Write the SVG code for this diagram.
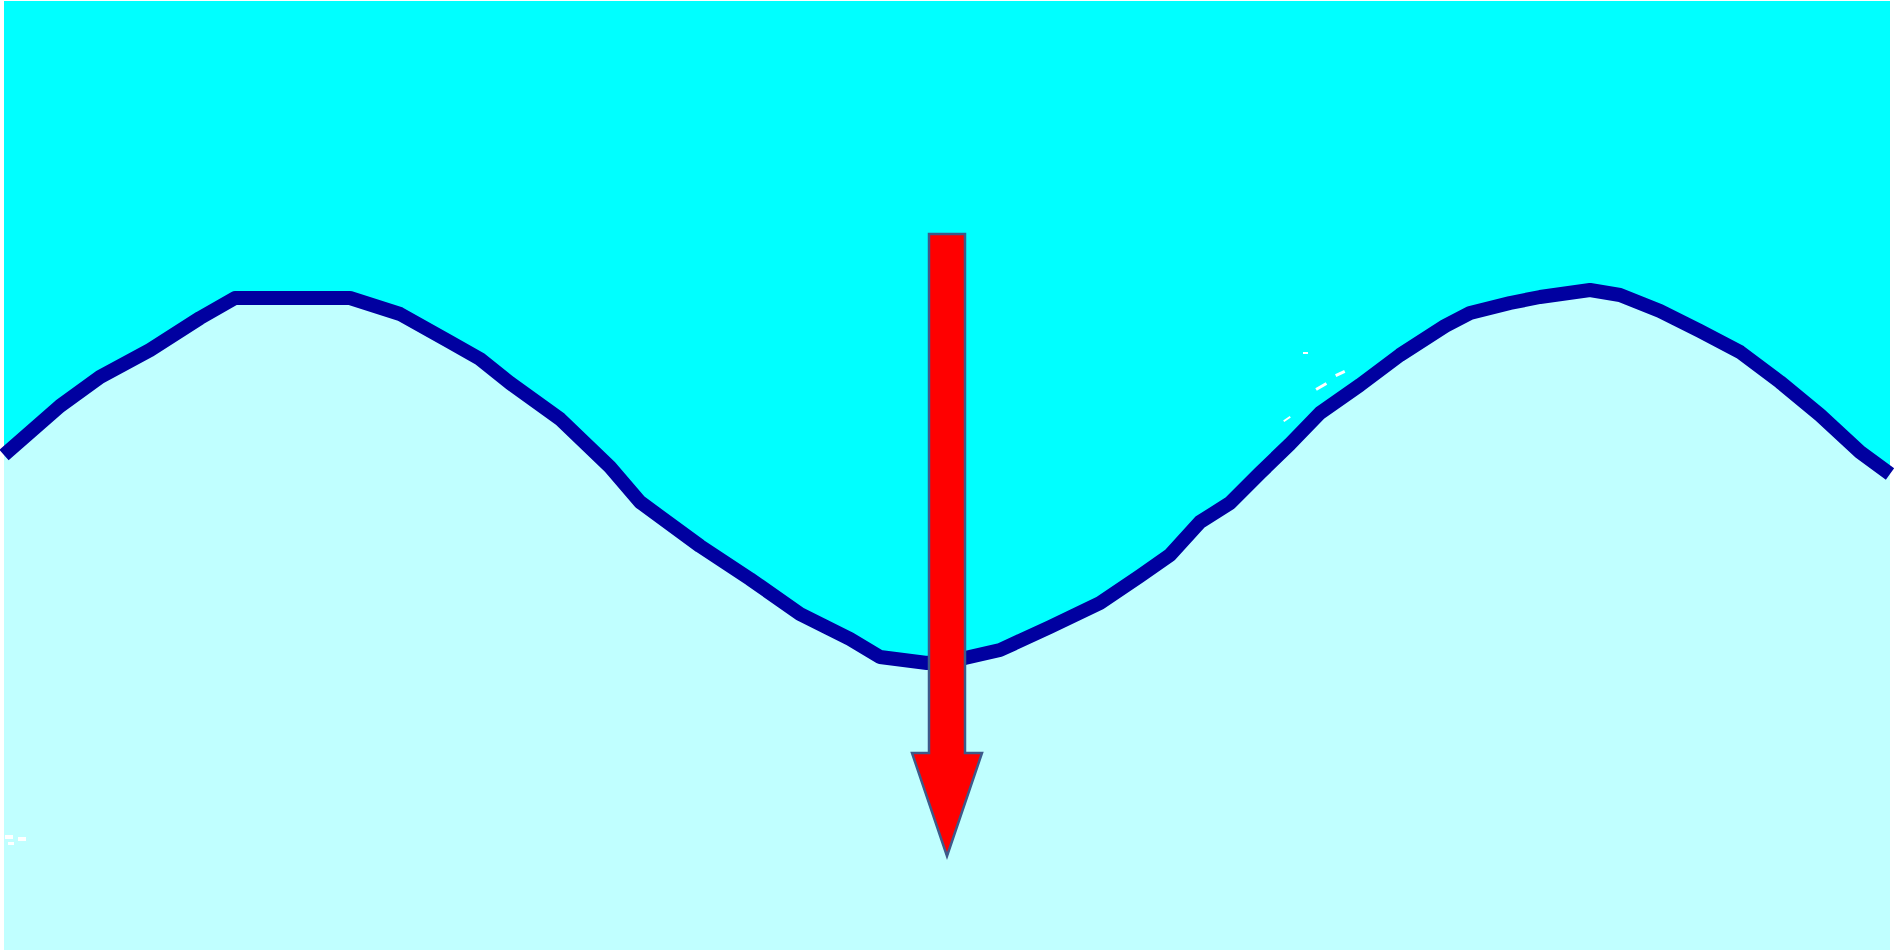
<svg xmlns="http://www.w3.org/2000/svg" width="1899" height="951" viewBox="0 0 1899 951">
<style>
.air{fill:#00FFFF}
.water{fill:#C0FFFF}
.iface{fill:none;stroke:#0000A0;stroke-width:14;stroke-linejoin:round;stroke-linecap:butt}
.arrow{fill:#FF0000;stroke:#3D5A8A;stroke-width:2.5;stroke-linejoin:miter}
.speck{fill:#FFFFFF}
</style>
<rect x="0" y="0" width="1899" height="951" fill="#FFFFFF"/>
<g id="scene">
<rect class="air" x="4" y="1" width="1886" height="949"/>
<path class="water" d="M4,455 L60,406 L100,377 L150,350 L200,318 L235,298 L350,298 L400,314 L450,342 L480,359 L510,383 L560,419 L610,467 L640,502 L700,546 L750,579 L800,614 L850,639 L880,657 L927,663 L965,658 L1000,650 L1050,627 L1100,603 L1140,576 L1170,555 L1200,522 L1230,503 L1260,473 L1290,444 L1320,413 L1360,385 L1400,355 L1445,326 L1470,313 L1510,303 L1540,297 L1590,290 L1620,295 L1660,311 L1700,331 L1740,352 L1780,382 L1820,415 L1860,452 L1890,474 L1890,950 L4,950 Z"/>
<path class="iface" d="M4,455 L60,406 L100,377 L150,350 L200,318 L235,298 L350,298 L400,314 L450,342 L480,359 L510,383 L560,419 L610,467 L640,502 L700,546 L750,579 L800,614 L850,639 L880,657 L927,663 L965,658 L1000,650 L1050,627 L1100,603 L1140,576 L1170,555 L1200,522 L1230,503 L1260,473 L1290,444 L1320,413 L1360,385 L1400,355 L1445,326 L1470,313 L1510,303 L1540,297 L1590,290 L1620,295 L1660,311 L1700,331 L1740,352 L1780,382 L1820,415 L1860,452 L1890,474"/>
<g id="specks">
<rect class="speck" x="5" y="835" width="8" height="4"/>
<rect class="speck" x="18" y="837" width="8" height="4"/>
<rect class="speck" x="8" y="842" width="6" height="3"/>
<rect class="speck" x="1303" y="352" width="5" height="2"/>
<rect class="speck" x="1315" y="385" width="12" height="3" transform="rotate(-30 1321 386)"/>
<rect class="speck" x="1335" y="372" width="10" height="3" transform="rotate(-25 1340 373)"/>
<rect class="speck" x="1283" y="418" width="8" height="2" transform="rotate(-35 1287 419)"/>
</g>
</g>
<g id="connectors">
<polygon id="arrow" class="arrow" points="929,234 965,234 965,753 982,753 947,856 912,753 929,753"/>
</g>
</svg>
